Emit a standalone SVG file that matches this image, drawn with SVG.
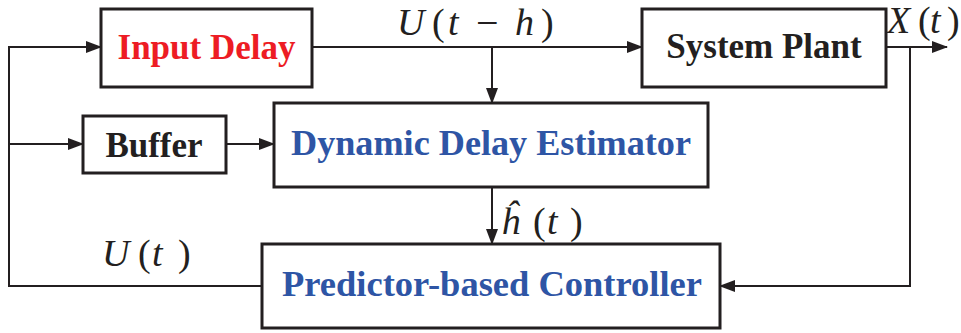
<svg xmlns="http://www.w3.org/2000/svg" width="961" height="333" viewBox="0 0 961 333">
<style>
.box{fill:#fff;stroke:#231f20;stroke-width:3}
.lbl{font-family:"Liberation Serif",serif;font-weight:bold;font-size:35px;text-anchor:middle}
.math{font-family:"Liberation Serif",serif;font-style:italic;font-size:38px;fill:#231f20}
.up{font-style:normal}
.wire{fill:none;stroke:#231f20;stroke-width:2}
</style>
<defs>
<marker id="arr" markerUnits="userSpaceOnUse" markerWidth="16" markerHeight="12" refX="15" refY="6" orient="auto">
<path d="M0,0 L16,6 L0,12 z" fill="#231f20"/>
</marker>
</defs>
<g id="connectors">
<path class="wire" d="M262,286 H9 V47 H101" marker-end="url(#arr)"/>
<path class="wire" d="M9,144 H83" marker-end="url(#arr)"/>
<path class="wire" d="M226,144 H274" marker-end="url(#arr)"/>
<path class="wire" d="M312,47 H642" marker-end="url(#arr)"/>
<path class="wire" d="M492,47 V103" marker-end="url(#arr)"/>
<path class="wire" d="M886,47 H947" marker-end="url(#arr)"/>
<path class="wire" d="M910,47 V286 H720" marker-end="url(#arr)"/>
<path class="wire" d="M492,187 V244" marker-end="url(#arr)"/>
</g>
<g id="input-delay">
<rect class="box" x="101" y="9" width="211" height="78"/>
<text class="lbl" x="206.5" y="59" fill="#ed1c24">Input Delay</text>
</g>
<g id="system-plant">
<rect class="box" x="642" y="9" width="244" height="78"/>
<text class="lbl" x="764" y="58" fill="#231f20">System Plant</text>
</g>
<g id="buffer">
<rect class="box" x="83" y="116" width="143" height="57"/>
<text class="lbl" x="154" y="157" fill="#231f20">Buffer</text>
</g>
<g id="dynamic-delay-estimator">
<rect class="box" x="274" y="103" width="434" height="84"/>
<text class="lbl" x="491" y="155" fill="#2e55a5" textLength="400" lengthAdjust="spacingAndGlyphs">Dynamic Delay Estimator</text>
</g>
<g id="predictor-controller">
<rect class="box" x="262" y="244" width="458" height="84"/>
<text class="lbl" x="492" y="296" fill="#2e55a5" textLength="420" lengthAdjust="spacingAndGlyphs">Predictor-based Controller</text>
</g>
<g id="labels">
<text class="math" y="35"><tspan x="397">U</tspan><tspan class="up" x="432">(</tspan><tspan x="448">t</tspan><tspan class="up" x="476" y="36" font-size="40">−</tspan><tspan x="515" y="35">h</tspan><tspan class="up" x="541">)</tspan></text>
<text class="math" y="33" font-size="33"><tspan x="887">X</tspan><tspan class="up" x="918">(</tspan><tspan x="930">t</tspan><tspan class="up" x="947">)</tspan></text>
<text class="math" y="234"><tspan x="501">ĥ</tspan><tspan class="up" x="533">(</tspan><tspan x="547">t</tspan><tspan class="up" x="570">)</tspan></text>
<text class="math" y="266"><tspan x="102">U</tspan><tspan class="up" x="138">(</tspan><tspan x="152">t</tspan><tspan class="up" x="178">)</tspan></text>
</g>
</svg>
